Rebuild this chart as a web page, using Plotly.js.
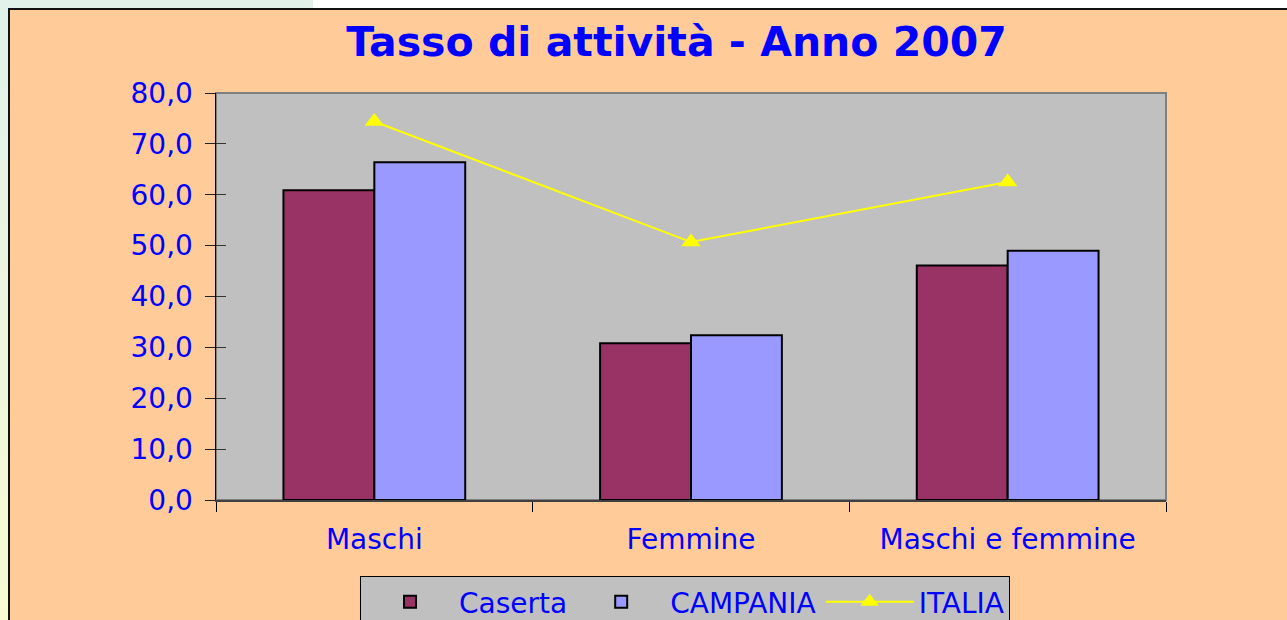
<!DOCTYPE html>
<html>
<head>
<meta charset="utf-8">
<script src="https://cdn.plot.ly/plotly-3.0.1.min.js"></script>
<style>
  html, body { margin: 0; padding: 0; width: 1287px; height: 620px; overflow: hidden; background: #ffffff; }
  #strip { position: absolute; left: 0; top: 0; width: 9px; height: 620px;
           background: linear-gradient(to bottom, #e0f1ea, #eef6dc 60%, #f8fbd2); }
  #topstrip { position: absolute; left: 0; top: 0; width: 313px; height: 9px; background: #e2f1e9; }
  #frame { position: absolute; left: 8px; top: 8px; width: 1290px; height: 620px;
           border-left: 2px solid #111; border-top: 2px solid #111; background: #FFCC99; }
  #chart { position: absolute; left: 10px; top: 10px; width: 1277px; height: 610px; }
</style>
</head>
<body>
<div id="strip"></div>
<div id="topstrip"></div>
<div id="frame"></div>
<div id="chart"></div>
<script>
const categories = ["Maschi", "Femmine", "Maschi e femmine"];
const caserta = [60.9, 30.8, 46.1];
const campania = [66.4, 32.4, 49.0];
const italia = [74.4, 50.7, 62.5];
const yTickVals = [0, 10, 20, 30, 40, 50, 60, 70, 80];
const yTickText = ["0,0", "10,0", "20,0", "30,0", "40,0", "50,0", "60,0", "70,0", "80,0"];

const FONT = "DejaVu Sans, Liberation Sans, Arial, sans-serif";
const BLUE = "#0000FF";

const traces = [
  { type: "bar", name: "Caserta", x: categories, y: caserta,
    marker: { color: "#993366", line: { color: "#000000", width: 2 } } },
  { type: "bar", name: "CAMPANIA", x: categories, y: campania,
    marker: { color: "#9999FF", line: { color: "#000000", width: 2 } } },
  { type: "scatter", mode: "lines+markers", name: "ITALIA", x: categories, y: italia,
    line: { color: "#FFFF00", width: 2 },
    marker: { symbol: "triangle-up", color: "#FFFF00", size: 17 } },
  { type: "scatter", x: categories, y: italia, yaxis: "y2", mode: "none",
    showlegend: false, hoverinfo: "skip" }
];

const layout = {
  width: 1277, height: 610,
  margin: { l: 206, r: 121, t: 83, b: 120, autoexpand: false },
  paper_bgcolor: "rgba(0,0,0,0)",
  plot_bgcolor: "#C0C0C0",
  font: { family: FONT, color: BLUE, size: 28 },
  title: { text: "<b>Tasso di attività - Anno 2007</b>",
           font: { family: FONT, size: 41, color: BLUE },
           xref: "container", x: 0.522, xanchor: "center",
           yref: "container", y: 0.948, yanchor: "middle" },
  barmode: "group",
  bargap: 0.426,
  bargroupgap: 0,
  showlegend: true,
  legend: { orientation: "h", x: 0.1516, xanchor: "left", y: -0.187, yanchor: "top",
            bgcolor: "#C0C0C0", bordercolor: "#000000", borderwidth: 1,
            font: { family: FONT, size: 28, color: BLUE }, itemwidth: 88,
            traceorder: "normal" },
  xaxis: { type: "category", showgrid: false, zeroline: false,
           showline: true, linecolor: "#404040", linewidth: 2,
           ticks: "outside", ticklen: 10, tickcolor: "#000000", tickwidth: 1,
           tickson: "boundaries",
           tickfont: { family: FONT, size: 28, color: BLUE },
           ticklabelstandoff: 13 },
  yaxis: { range: [0, 80], showgrid: false, zeroline: false,
           showline: true, linecolor: "#000000", linewidth: 1.5,
           ticks: "outside", ticklen: 10, tickcolor: "#222222", tickwidth: 1,
           tickvals: yTickVals, ticktext: yTickText,
           tickfont: { family: FONT, size: 28, color: BLUE },
           ticklabelstandoff: 6 },
  yaxis2: { range: [0, 80], overlaying: "y", side: "left", showgrid: false, zeroline: false,
            showline: false, ticks: "inside", ticklen: 10, tickcolor: "#333333", tickwidth: 1,
            tickvals: yTickVals, showticklabels: false },
  shapes: [
    { type: "rect", xref: "paper", yref: "paper", x0: 0, x1: 1, y0: 0, y1: 1,
      line: { color: "#808080", width: 2 }, layer: "below" }
  ]
};

Plotly.newPlot("chart", traces, layout, { displayModeBar: false, staticPlot: true });
</script>
</body>
</html>
